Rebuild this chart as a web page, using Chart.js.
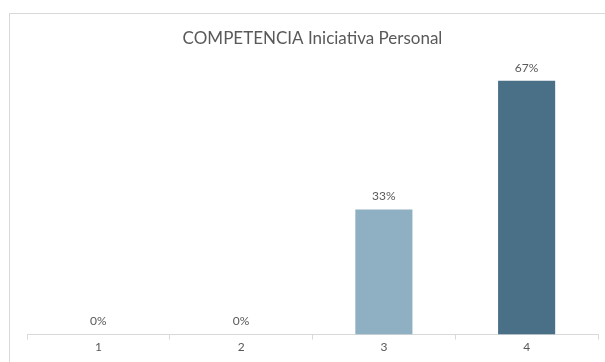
<!DOCTYPE html>
<html>
<head>
<meta charset="utf-8">
<script src="https://cdn.jsdelivr.net/npm/chart.js@4.4.1/dist/chart.umd.min.js"></script>
<style>
  html, body { margin: 0; padding: 0; background: #fff; }
  #wrap { position: relative; width: 605px; height: 362px; overflow: hidden; }
  #frame { position: absolute; left: 9px; top: 13px; width: 700px; height: 400px; border: 1px solid #d9d9d9; box-sizing: border-box; }
  canvas { position: absolute; left: 0; top: 0; }
</style>
</head>
<body>
<div id="wrap">
  <div id="frame"></div>
  <canvas id="c" width="605" height="362"></canvas>
</div>
<script>
const categories = ['1', '2', '3', '4'];
const percentages = [0, 0, 33, 67];
const barColors = ['#8FB0C3', '#8FB0C3', '#8FB0C3', '#4A7088'];
const chartTitle = 'COMPETENCIA Iniciativa Personal';

const FONT = 'Lato, "Open Sans", sans-serif';

// Writes each bar's percentage just above its top
const valueLabels = {
  id: 'valueLabels',
  afterDatasetsDraw(chart) {
    const ctx = chart.ctx;
    const meta = chart.getDatasetMeta(0);
    ctx.save();
    ctx.font = '12px ' + FONT;
    ctx.fillStyle = '#595959';
    ctx.textAlign = 'center';
    ctx.textBaseline = 'middle';
    meta.data.forEach((bar, i) => {
      ctx.fillText(percentages[i] + '%', bar.x, bar.y - 13);
    });
    ctx.restore();
  }
};

new Chart(document.getElementById('c'), {
  type: 'bar',
  data: {
    labels: categories,
    datasets: [{
      data: percentages,
      backgroundColor: barColors,
      borderWidth: 0,
      categoryPercentage: 1,
      barPercentage: 0.4
    }]
  },
  options: {
    responsive: false,
    animation: false,
    devicePixelRatio: 1,
    layout: { padding: { left: 27, right: 7, top: 0, bottom: 8 } },
    plugins: {
      legend: { display: false },
      tooltip: { enabled: false },
      title: {
        display: true,
        text: chartTitle,
        color: '#595959',
        font: { family: FONT, size: 17, weight: 'normal' },
        padding: { top: 28, bottom: 21 }
      }
    },
    scales: {
      x: {
        offset: true,
        grid: {
          offset: true,
          drawOnChartArea: false,
          drawTicks: true,
          tickLength: 5,
          color: '#d9d9d9'
        },
        border: { color: '#d9d9d9', width: 1 },
        ticks: { color: '#595959', font: { family: FONT, size: 12 }, padding: 0 }
      },
      y: {
        display: false,
        min: 0,
        max: 70
      }
    }
  },
  plugins: [valueLabels]
});
</script>
</body>
</html>
